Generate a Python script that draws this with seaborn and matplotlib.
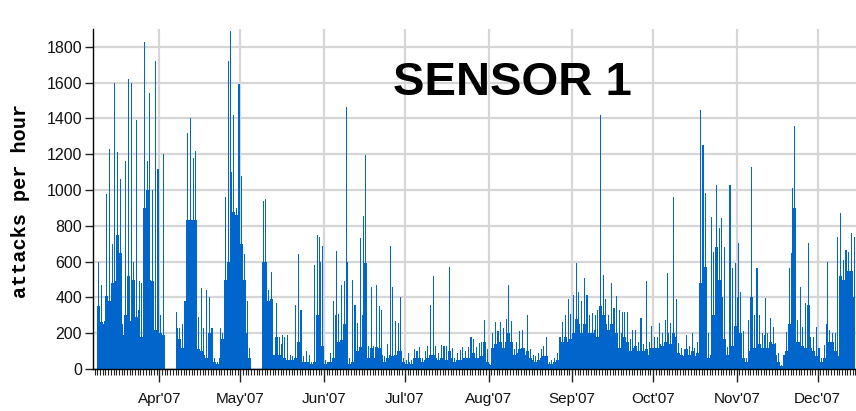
import numpy as np
import pandas as pd
import matplotlib
matplotlib.use('Agg')
import matplotlib.pyplot as plt
import seaborn as sns

start = '2007-03-09'

# daily peak of the hourly attack counts (None = sensor offline)
peak = [
    600, 470, 270, 980, 1230, 700, 1600, 1215, 1060, 250, 1160, 1620,          # Mar 9-20
    1600, 600, 1390, 490, 480, 1830, 1160, 1540, 1000, 1720, 1120,               # Mar 21-31
    300, 1200, None, None, None, None, 320, 230, 250, 380,                      # Apr
    1320, 1400, 1180, 1220, 290, 450, 230, 440, 400, 230,
    60, 40, 230, 200, 960, 1720, 1890, 1420, 900, 1590,
    1080, 640, 380, 120, None, None, None, None, 940, 950,                      # May
    440, 540, 80, 370, 180, 190, 180, 190, 80, 70,
    360, 640, 330, 70, 100, 80, 40, 580, 750, 740, 690,
    50, 40, 90, 380, 660, 310, 470, 490, 1466, 60,                              # Jun
    500, 360, 255, 730, 855, 1196, 130, 460, 130, 470,
    350, 330, 70, 140, 690, 460, 270, 255, 400, 60,
    50, 90, 50, 110, 100, 125, 60, 100, 130, 360,                               # Jul
    520, 130, 90, 135, 130, 130, 572, 120, 60, 90,
    106, 125, 100, 125, 180, 170, 125, 143, 150, 274, 110,
    30, 200, 265, 210, 265, 230, 280, 469, 270, 110,                            # Aug
    150, 210, 220, 120, 302, 110, 80, 70, 90, 110,
    130, 180, 40, 50, 60, 90, 180, 260, 300, 390, 310,
    414, 590, 430, 380, 507, 414, 300, 311, 300, 330,                           # Sep
    1420, 525, 390, 300, 480, 340, 410, 330, 320, 320,
    320, 170, 220, 220, 150, 283, 140, 490, 150, 240,
    180, 180, 255, 200, 274, 535, 255, 963, 390, 143,                           # Oct
    120, 110, 190, 130, 200, 120, 150, 1448, 1252, 982,
    200, 851, 656, 1028, 786, 842, 680, 125, 1028, 563, 594,
    702, 428, 210, 60, 274, 1131, 302, 563, 302, 200,                           # Nov
    399, 200, 283, 237, 143, 88, 20, 80, 209, 563,
    1010, 1358, 274, 460, 237, 367, 702, 181, 181, 237,
    115, 60, 134, 596, 220, 200, 200, 740, 874, 609, 665, 656, 758, 740,       # Dec 1-14
]

# level the hourly counts sit at for most of the day
base = [
    350, 260, 250, 410, 380, 480, 490, 750, 650, 190, 300, 520,
    270, 500, 290, 330, 180, 900, 1000, 500, 490, 220, 380,
    200, 190, None, None, None, None, 230, 170, 120, 110,
    830, 830, 830, 830, 110, 100, 80, 60, 200, 60,
    40, 30, 60, 170, 500, 600, 1100, 880, 860, 860,
    700, 500, 200, 60, None, None, None, None, 600, 600,
    380, 390, 30, 180, 80, 140, 60, 50, 50, 50,
    60, 150, 60, 40, 40, 40, 30, 40, 300, 600, 130,
    30, 30, 40, 60, 300, 150, 160, 250, 600, 30,
    40, 60, 100, 125, 300, 590, 60, 120, 60, 125,
    120, 80, 40, 60, 80, 70, 80, 100, 100, 40,
    30, 40, 30, 60, 60, 60, 40, 50, 60, 80,
    80, 60, 50, 60, 60, 50, 100, 60, 40, 50,
    50, 60, 60, 60, 80, 90, 60, 60, 70, 150, 40,
    20, 120, 140, 120, 150, 120, 150, 200, 150, 80,
    90, 110, 120, 80, 100, 60, 50, 40, 50, 60,
    70, 70, 30, 30, 40, 50, 90, 150, 180, 150, 170,
    200, 280, 250, 200, 250, 250, 200, 200, 220, 180,
    350, 300, 250, 220, 250, 220, 200, 120, 200, 180,
    150, 100, 120, 130, 100, 130, 100, 110, 80, 120,
    120, 120, 140, 130, 150, 200, 140, 200, 180, 90,
    80, 70, 110, 80, 100, 70, 90, 480, 600, 570,
    60, 80, 300, 680, 500, 400, 170, 80, 150, 130, 240,
    400, 200, 60, 40, 100, 400, 115, 255, 140, 120,
    190, 120, 150, 140, 80, 40, 15, 50, 100, 250,
    650, 900, 150, 150, 130, 120, 360, 120, 100, 70,
    60, 40, 60, 250, 150, 150, 100, 70, 520, 500, 580, 550, 550, 400,
]

month_starts = ['2007-04-01', '2007-05-01', '2007-06-01', '2007-07-01', '2007-08-01',
                '2007-09-01', '2007-10-01', '2007-11-01', '2007-12-01']
month_labels = ["Apr'07", "May'07", "Jun'07", "Jul'07", "Aug'07",
                "Sep'07", "Oct'07", "Nov'07", "Dec'07"]
y_ticks = [0, 200, 400, 600, 800, 1000, 1200, 1400, 1600, 1800]

origin = pd.Timestamp('2007-03-01')
dates = pd.date_range(start, periods=len(peak), freq='D')
df = pd.DataFrame({'day': (dates - origin).days + 0.5, 'peak': peak, 'base': base})
df = df.dropna()

sns.set_style('ticks')
plt.rcParams['font.family'] = ['Liberation Sans', 'DejaVu Sans']

fig = plt.figure(figsize=(8.56, 4.11), dpi=100)
ax = fig.add_axes([93 / 856, 42 / 411, 763 / 856, 340 / 411])

blue = '#0066cc'
sns.histplot(data=df, x='day', weights='base', discrete=True, color=blue,
             alpha=1, linewidth=0, ax=ax, zorder=2)
sns.histplot(data=df, x='day', weights='peak', discrete=True, shrink=0.4,
             color=blue, alpha=1, linewidth=0, ax=ax, zorder=2)

ticks = (pd.to_datetime(month_starts) - origin).days
ax.set_xticks(ticks, month_labels)
ax.set_xticks(np.arange(7, 290), minor=True)
ax.set_yticks(y_ticks)
ax.set_xlim(6.4, 289.2)
ax.set_ylim(0, 1900)
ax.set_xlabel('')
ax.set_ylabel('')

ax.grid(True, which='major', color='#d6d6d6', linewidth=1.6)
ax.set_axisbelow(True)
sns.despine(ax=ax)
for side in ['left', 'bottom']:
    ax.spines[side].set_color('black')
    ax.spines[side].set_linewidth(1)

ax.tick_params(axis='x', which='major', length=9, width=1, color='#222222',
               pad=7.5, labelsize=11, labelcolor='#111111')
ax.tick_params(axis='x', which='minor', length=4, width=0.8, color='#222222')
ax.tick_params(axis='y', length=6, width=1, color='#222222', pad=2,
               labelsize=11.5, labelcolor='#111111')

fig.text(21 / 856, 1 - 201 / 411, 'attacks per hour', rotation=90,
         ha='center', va='center', fontsize=14.5, fontweight='bold', color='black',
         family=['Liberation Mono', 'DejaVu Sans Mono'])
fig.text(512 / 856, 1 - 83 / 411, 'SENSOR 1', ha='center', va='center',
         fontsize=34, fontweight='bold', color='black')

fig.savefig('out.png', dpi=100)
